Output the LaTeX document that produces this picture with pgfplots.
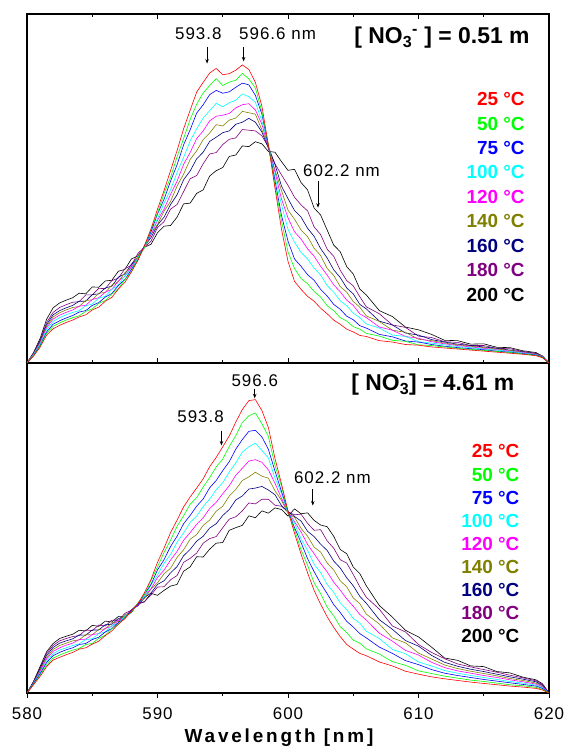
\documentclass[border=0pt]{standalone}
\usepackage{fontspec}
\setmainfont{Liberation Sans}
\newfontfamily\spacedfont[LetterSpace=6]{Liberation Sans}
\newfontfamily\labelfont[LetterSpace=15]{Liberation Sans}
\usepackage{pgfplots}
\usepackage{pgfplotstable}
\pgfplotsset{compat=1.18}
\usetikzlibrary{arrows.meta}

\definecolor{cR}{RGB}{255,0,0}
\definecolor{cG}{RGB}{0,255,0}
\definecolor{cB}{RGB}{0,0,255}
\definecolor{cC}{RGB}{0,255,255}
\definecolor{cM}{RGB}{255,0,255}
\definecolor{cO}{RGB}{128,128,0}
\definecolor{cN}{RGB}{0,0,128}
\definecolor{cP}{RGB}{128,0,128}
\definecolor{cK}{RGB}{0,0,0}

\pgfplotstableread{
x R G B C M O N P K
580 0 0 0 0 0 0 0 0 0
580.5 2.0 2.1 2.2 2.4 2.5 2.6 2.7 2.8 3.0
581 4.5 4.8 5.0 5.4 5.7 5.9 6.2 6.5 7.0
581.5 8.0 8.5 8.9 9.6 10.1 10.5 11.0 11.6 12.5
582 9.8 10.5 11.1 11.9 12.6 13.2 13.8 14.5 15.8
582.5 10.8 11.5 12.1 13.0 13.7 14.4 15.0 15.9 17.2
583 11.6 12.3 12.9 13.8 14.5 15.2 15.8 16.7 18.0
583.5 12.3 13.0 13.6 14.5 15.2 15.9 16.5 17.4 18.7
584 13.2 13.5 14.6 15.0 16.3 16.2 17.7 17.6 20.0
584.5 13.8 14.8 15.0 16.4 16.5 17.9 17.7 19.5 19.8
585 15.2 15.5 16.5 16.9 18.2 18.1 19.6 19.5 21.8
585.5 16.0 17.1 17.3 18.6 18.7 20.0 19.8 21.4 21.7
586 17.7 17.9 18.9 19.1 20.3 20.2 21.5 21.3 23.5
586.5 18.8 19.8 19.9 21.1 21.1 22.3 22.0 23.6 23.7
587 21.2 21.3 22.2 22.4 23.5 23.3 24.6 24.3 26.3
587.5 23.1 23.9 23.9 25.0 24.8 25.9 25.5 27.0 26.8
588 26.1 26.1 26.8 26.9 27.6 27.4 28.3 28.0 29.8
588.5 29.4 29.9 29.6 30.2 30.0 30.6 30.2 31.4 30.7
589 33.6 33.2 33.6 33.1 33.5 32.9 33.5 33.2 33.2
589.5 38.4 38.3 37.6 37.5 36.7 36.8 35.9 34.9 34.0
590 44.1 43.0 42.7 41.3 40.9 39.7 39.5 38.8 37.3
590.5 49.4 48.5 46.9 45.8 44.1 43.5 41.8 40.5 39.2
591 55.1 53.2 52.1 49.6 48.3 46.3 45.4 44.1 39.4
591.5 60.9 59.1 56.8 54.6 52.1 50.7 48.2 45.4 41.8
592 67.1 64.3 62.5 58.9 56.9 54.1 52.5 49.1 45.6
592.5 72.4 69.8 66.8 63.6 60.3 58.3 55.0 52.8 45.8
593 77.6 74.1 71.6 67.1 64.3 60.8 58.5 53.7 48.6
593.5 80.4 77.4 74.0 70.2 66.5 64.0 60.4 57.1 49.6
594 83.1 79.5 76.9 72.3 69.4 65.9 63.5 59.9 53.6
594.5 84.4 81.5 78.1 74.4 70.7 68.3 64.7 60.3 55.1
595 82.6 79.5 77.3 73.4 71.0 67.9 66.0 62.6 56.0
595.5 82.9 80.5 77.7 74.6 71.5 69.6 66.5 64.1 59.2
596 83.9 81.0 79.0 75.3 73.1 70.2 68.4 64.5 59.6
596.5 85.4 83.0 80.2 77.1 74.0 72.1 69.0 66.9 62.2
597 84.1 81.4 79.7 76.3 74.3 71.7 70.1 66.7 62.0
597.5 80.4 78.8 76.7 74.7 72.5 71.3 69.0 66.5 63.4
598 73.6 72.0 71.3 69.3 68.4 66.8 66.2 65.1 62.8
598.5 62.4 62.6 62.1 62.4 61.8 62.2 61.5 61.9 60.6
599 50.1 50.9 52.3 53.3 54.8 55.3 56.9 57.1 60.4
599.5 38.4 40.8 42.3 45.4 47.0 49.4 50.7 53.9 57.7
600 29.1 31.8 34.9 38.3 41.6 43.8 47.1 50.9 55.2
600.5 23.4 27.1 29.8 34.6 37.6 41.2 43.7 47.5 55.5
601 21.1 24.2 27.7 31.7 35.5 38.1 41.8 45.3 51.7
601.5 19.1 22.7 25.3 29.8 32.7 36.2 38.6 43.6 49.6
602 17.7 20.5 23.7 27.2 30.6 32.9 36.3 39.0 44.4
602.5 15.7 18.9 21.1 25.2 27.7 30.8 32.8 36.8 42.4
603 14.1 16.4 19.2 22.2 25.2 27.1 30.1 32.6 38.1
603.5 12.3 15.0 16.8 20.3 22.4 25.1 26.7 30.6 33.8
604 11.1 13.0 15.4 17.8 20.4 21.9 24.5 26.6 31.9
604.5 9.7 12.0 13.4 16.4 18.0 20.3 21.5 23.6 27.6
605 8.9 10.4 12.4 14.3 16.5 17.6 19.8 22.1 25.5
605.5 7.9 9.7 10.7 13.0 14.1 16.0 16.8 19.0 21.2
606 7.6 8.5 10.0 11.2 13.0 13.5 15.5 16.1 19.5
607 6.4 7.7 8.2 10.0 10.3 11.9 12.0 14.1 15.0
608 6.0 6.5 7.5 8.0 9.4 9.4 10.9 10.9 13.3
609 5.3 6.2 6.3 7.6 7.6 8.8 8.6 10.2 10.3
610 5.1 5.2 6.0 6.1 7.1 6.8 8.0 7.7 9.5
611 4.6 5.0 5.3 5.7 6.1 6.4 6.7 7.3 8.2
612 4.3 4.6 4.8 5.2 5.5 5.7 6.0 6.1 6.5
613 4.0 4.2 4.4 4.7 5.0 5.2 5.4 5.9 6.4
614 3.7 3.9 4.1 4.4 4.6 4.8 5.0 5.0 5.4
615 3.4 3.6 3.8 4.0 4.2 4.4 4.6 5.0 5.5
616 3.1 3.3 3.4 3.7 3.8 4.0 4.2 4.2 4.5
617 2.8 3.0 3.1 3.3 3.4 3.6 3.7 4.1 4.4
618 2.5 2.6 2.7 2.9 3.0 3.1 3.2 3.3 3.5
619 2.1 2.2 2.3 2.4 2.5 2.6 2.7 2.8 3.0
619.5 1.5 1.6 1.7 1.7 1.8 1.9 1.9 1.9 2.0
620 0 0 0 0 0 0 0 0 0
}\toptable

\pgfplotstableread{
x R G B C M O N P K
580 0 0 0 0 0 0 0 0 0
580.5 2.5 2.6 2.8 2.9 3.0 3.1 3.3 3.4 3.5
581 5.0 5.4 5.8 6.1 6.5 6.9 7.3 7.6 8.0
581.5 8.0 8.5 9.2 9.7 10.3 10.8 11.4 12.0 12.5
582 10.0 10.6 11.3 11.9 12.6 13.2 13.8 14.4 15.0
582.5 10.8 11.5 12.3 13.0 13.7 14.4 15.1 15.8 16.5
583 11.6 12.3 13.1 13.7 14.5 15.1 15.8 16.5 17.2
583.5 12.3 13.0 13.7 14.4 15.1 15.8 16.4 17.1 17.8
584 13.3 13.5 14.7 14.9 16.2 16.1 17.6 17.4 19.0
584.5 13.7 14.7 15.0 16.2 16.3 17.7 17.5 19.1 18.8
585 14.8 15.0 16.2 16.4 17.7 17.6 19.1 18.9 20.5
585.5 15.7 16.6 16.9 18.0 18.0 19.3 19.1 20.6 20.2
586 17.4 17.5 18.5 18.5 19.6 19.4 20.7 20.3 21.8
586.5 18.8 19.5 19.5 20.4 20.2 21.3 20.8 22.1 21.5
587 20.9 20.7 21.4 21.2 22.0 21.6 22.6 22.0 23.2
587.5 22.5 22.9 22.7 23.3 22.9 23.7 23.0 24.1 23.2
588 24.8 24.5 25.0 24.6 25.1 24.6 25.2 25.1 24.4
588.5 27.1 27.3 26.8 27.1 26.6 27.1 26.4 27.1 27.0
589 30.4 29.8 29.9 29.2 29.3 28.6 28.9 27.7 27.6
589.5 34.4 34.1 32.9 32.7 31.6 31.5 30.3 29.7 30.2
590 39.6 38.2 37.3 35.8 35.0 33.4 32.9 32.1 29.6
590.5 43.9 42.6 40.4 39.3 37.2 36.1 34.0 32.2 31.1
591 48.6 46.3 44.4 42.0 40.3 37.8 36.4 34.3 32.4
591.5 52.4 50.5 47.5 45.7 42.9 41.1 38.3 35.6 32.9
592 56.4 53.7 51.3 48.5 46.3 43.4 41.6 39.6 36.9
592.5 59.4 57.2 53.8 51.7 48.6 46.6 43.5 40.8 38.2
593 62.1 59.2 56.6 53.6 51.1 48.0 46.0 42.4 41.3
593.5 64.9 62.4 58.8 56.5 53.1 50.8 47.5 45.4 41.2
594 68.6 65.3 62.2 58.8 55.9 52.4 50.0 46.8 43.6
594.5 71.4 68.5 64.4 61.6 57.8 55.1 51.3 47.4 45.4
595 74.6 70.9 67.4 63.7 60.4 56.6 53.8 50.1 45.6
595.5 77.9 74.7 70.1 67.0 62.8 59.7 55.6 52.7 49.3
596 82.1 78.0 73.9 69.7 66.0 61.7 58.5 53.4 50.1
596.5 85.9 82.0 76.8 73.0 68.1 64.4 59.7 55.2 50.8
597 88.6 84.0 79.3 74.6 70.3 65.5 61.8 57.6 53.7
597.5 88.9 84.9 79.6 75.7 70.7 66.9 62.1 57.3 53.1
598 85.6 81.6 77.6 73.5 69.9 65.7 62.6 58.7 55.2
598.5 80.4 77.7 73.8 71.2 67.6 65.1 61.5 58.7 54.5
599 71.1 69.0 67.3 65.1 63.6 61.3 60.1 56.9 56.1
599.5 63.4 62.7 61.1 60.5 59.0 58.4 56.8 56.6 55.6
600 55.1 54.8 55.1 54.6 54.9 54.4 54.9 54.9 53.6
600.5 48.4 49.5 50.1 51.4 51.9 53.2 53.5 54.0 55.8
601 42.1 43.4 45.6 46.7 48.8 49.9 52.1 54.2 54.3
601.5 36.4 38.7 40.7 43.2 45.0 47.5 49.0 51.4 54.6
602 31.1 33.4 36.8 39.0 42.2 44.2 47.4 49.3 52.3
602.5 26.9 30.1 33.2 36.5 39.3 42.7 45.1 49.5 50.9
603 23.1 26.0 30.1 32.9 36.7 39.4 43.2 46.1 50.4
603.5 19.9 23.4 26.8 30.5 33.6 37.3 40.0 43.9 47.5
604 17.1 20.1 24.4 27.3 31.2 34.0 37.9 40.4 43.5
604.5 14.7 18.3 21.7 25.3 28.5 32.2 34.9 39.4 42.2
605 13.3 16.0 20.0 22.6 26.3 28.8 32.5 35.9 38.2
605.5 12.0 15.1 18.0 21.2 23.8 27.1 29.3 32.2 36.2
606 11.3 13.4 16.7 18.7 22.1 23.9 27.2 29.0 32.5
607 9.4 11.8 13.9 16.5 18.1 20.9 22.2 25.4 26.5
608 8.2 9.5 12.0 13.2 15.7 16.7 19.3 20.3 23.0
609 6.6 8.4 9.8 11.9 12.9 15.2 15.9 18.5 19.0
610 5.7 6.7 8.6 9.4 11.5 12.1 14.2 14.7 17.0
611 4.9 5.9 7.1 8.2 9.3 10.3 11.4 12.3 13.9
612 4.3 5.1 6.0 6.8 7.7 8.5 9.3 10.4 10.6
613 3.8 4.5 5.3 6.0 6.7 7.4 8.1 8.8 9.9
614 3.3 3.9 4.7 5.3 6.0 6.6 7.2 7.9 8.2
615 2.9 3.5 4.1 4.7 5.3 5.9 6.5 7.1 8.0
616 2.5 3.0 3.6 4.1 4.7 5.2 5.7 6.3 6.5
617 2.1 2.5 3.1 3.5 4.0 4.4 4.9 5.4 6.1
618 1.8 2.2 2.6 3.0 3.4 3.8 4.2 4.6 4.8
619 1.4 1.7 2.1 2.4 2.7 3.0 3.4 3.7 4.0
619.5 0.9 1.1 1.4 1.6 1.9 2.1 2.3 2.6 2.8
620 0 0 0 0 0 0 0 0 0
}\bottable

\pgfplotsset{
  spec/.style={
    scale only axis, width=522bp,
    xmin=580, xmax=620, ymin=0, ymax=100,
    xtick={580,590,...,620}, minor xtick={585,595,605,615},
    ytick=\empty,
    axis line style={line width=1.1bp},
    every tick/.style={black, line width=0.9bp},
    major tick length=5bp, minor tick length=3bp,
    clip=true,
  },
  curve/.style={line width=0.6bp, line join=round},
}

\newcommand{\tempfont}{\bfseries\fontsize{19}{21}\selectfont}
\newcommand{\annfont}{\spacedfont\fontsize{17}{19}\selectfont}
\newcommand{\concfont}{\bfseries\fontsize{23}{26}\selectfont}

\begin{document}
\begin{tikzpicture}
\useasboundingbox (-27bp,-56bp) rectangle (537bp,693bp);

% bottom panel
\begin{axis}[spec, at={(0,0)}, anchor=south west, height=330bp,
  tick align=outside, xtick pos=left,
  xticklabel style={font=\spacedfont\fontsize{17}{19}\selectfont, yshift=-6bp},
  /pgf/number format/assume math mode=true]
\addplot[curve, cK] table[x=x,y=K]{\bottable};
\addplot[curve, cP] table[x=x,y=P]{\bottable};
\addplot[curve, cN] table[x=x,y=N]{\bottable};
\addplot[curve, cO] table[x=x,y=O]{\bottable};
\addplot[curve, cM] table[x=x,y=M]{\bottable};
\addplot[curve, cC] table[x=x,y=C]{\bottable};
\addplot[curve, cB] table[x=x,y=B]{\bottable};
\addplot[curve, cG] table[x=x,y=G]{\bottable};
\addplot[curve, cR] table[x=x,y=R]{\bottable};
\node[font=\annfont] at (axis cs:597.45,94.7) {596.6};
\draw[line width=0.8bp, -{Stealth[length=4.5bp,width=3.5bp]}] (axis cs:597.45,92.2) -- (axis cs:597.45,89.3);
\node[font=\annfont] at (axis cs:593.3,83.6) {593.8};
\draw[line width=0.8bp, -{Stealth[length=4.5bp,width=3.5bp]}] (axis cs:594.9,79.5) -- (axis cs:594.9,75.0);
\node[font=\annfont] at (axis cs:603.4,65.2) {602.2 nm};
\draw[line width=0.8bp, -{Stealth[length=4.5bp,width=3.5bp]}] (axis cs:601.9,61.8) -- (axis cs:601.9,56.8);
\node[font=\concfont] at (axis cs:611.1,93.4) {[ NO\rlap{\textsuperscript{-}}\textsubscript{3}] = 4.61 m};
\node[anchor=east, font=\tempfont, text=cR] at (axis cs:618.0,73.2) {25 °C};
\node[anchor=east, font=\tempfont, text=cG] at (axis cs:618.0,66.2) {50 °C};
\node[anchor=east, font=\tempfont, text=cB] at (axis cs:618.0,59.1) {75 °C};
\node[anchor=east, font=\tempfont, text=cC] at (axis cs:618.0,52.0) {100 °C};
\node[anchor=east, font=\tempfont, text=cM] at (axis cs:618.0,45.2) {120 °C};
\node[anchor=east, font=\tempfont, text=cO] at (axis cs:618.0,38.1) {140 °C};
\node[anchor=east, font=\tempfont, text=cN] at (axis cs:618.0,31.3) {160 °C};
\node[anchor=east, font=\tempfont, text=cP] at (axis cs:618.0,24.2) {180 °C};
\node[anchor=east, font=\tempfont, text=cK] at (axis cs:618.0,17.4) {200 °C};
\end{axis}

% top panel
\begin{axis}[spec, at={(0,330bp)}, anchor=south west, height=349bp,
  tick align=inside, xticklabels=\empty]
\addplot[curve, cK] table[x=x,y=K]{\toptable};
\addplot[curve, cP] table[x=x,y=P]{\toptable};
\addplot[curve, cN] table[x=x,y=N]{\toptable};
\addplot[curve, cO] table[x=x,y=O]{\toptable};
\addplot[curve, cM] table[x=x,y=M]{\toptable};
\addplot[curve, cC] table[x=x,y=C]{\toptable};
\addplot[curve, cB] table[x=x,y=B]{\toptable};
\addplot[curve, cG] table[x=x,y=G]{\toptable};
\addplot[curve, cR] table[x=x,y=R]{\toptable};
\node[font=\annfont] at (axis cs:593.13,94.3) {593.8};
\node[font=\annfont] at (axis cs:599.2,94.3) {596.6 nm};
\draw[line width=0.8bp, -{Stealth[length=4.5bp,width=3.5bp]}] (axis cs:593.8,90.6) -- (axis cs:593.8,85.8);
\draw[line width=0.8bp, -{Stealth[length=4.5bp,width=3.5bp]}] (axis cs:596.6,90.6) -- (axis cs:596.6,86.4);
\node[font=\annfont] at (axis cs:604.1,55.0) {602.2 nm};
\draw[line width=0.8bp, -{Stealth[length=4.5bp,width=3.5bp]}] (axis cs:602.3,52.2) -- (axis cs:602.3,44.5);
\node[font=\concfont] at (axis cs:611.8,93.3) {[ NO\textsubscript{3}\textsuperscript{-} ] = 0.51 m};
\node[anchor=east, font=\tempfont, text=cR] at (axis cs:618.4,75.6) {25 °C};
\node[anchor=east, font=\tempfont, text=cG] at (axis cs:618.4,68.6) {50 °C};
\node[anchor=east, font=\tempfont, text=cB] at (axis cs:618.4,61.6) {75 °C};
\node[anchor=east, font=\tempfont, text=cC] at (axis cs:618.4,54.6) {100 °C};
\node[anchor=east, font=\tempfont, text=cM] at (axis cs:618.4,47.6) {120 °C};
\node[anchor=east, font=\tempfont, text=cO] at (axis cs:618.4,40.6) {140 °C};
\node[anchor=east, font=\tempfont, text=cN] at (axis cs:618.4,33.6) {160 °C};
\node[anchor=east, font=\tempfont, text=cP] at (axis cs:618.4,26.6) {180 °C};
\node[anchor=east, font=\tempfont, text=cK] at (axis cs:618.4,19.6) {200 °C};
\end{axis}

\node[font=\labelfont\bfseries\fontsize{19}{21}\selectfont] at (252bp,-45bp) {Wavelength [nm]};
\end{tikzpicture}
\end{document}
